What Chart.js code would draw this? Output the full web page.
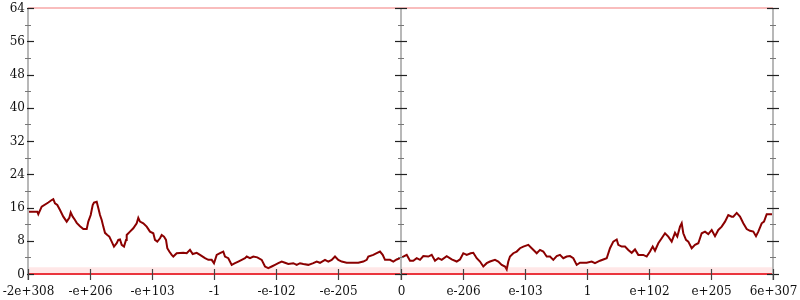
<!DOCTYPE html>
<html>
<head>
<meta charset="utf-8">
<script src="https://cdn.jsdelivr.net/npm/chart.js@4.4.1/dist/chart.umd.min.js"></script>
<style>
  html, body { margin: 0; padding: 0; background: #fff; }
  #wrap { width: 800px; height: 300px; }
</style>
</head>
<body>
<div id="wrap"><canvas id="chart" width="800" height="300"></canvas></div>
<script>
// x positions run along the axis from 0 to xMax, 13 evenly spaced labelled ticks
const xMax = 745;
const xTickLabels = ['-2e+308', '-e+206', '-e+103', '-1', '-e-102', '-e-205', '0',
                     'e-206', 'e-103', '1', 'e+102', 'e+205', '6e+307'];
const yTicks = [0, 8, 16, 24, 32, 40, 48, 56, 64];
const yMinorStep = 4;

const linePos = [
  0, 9.3, 10.3, 13.7, 20.3, 23.7, 25.3, 27, 29.3, 32, 35.3, 38.7, 41.3, 42.7, 44.7, 47, 48.7, 52, 55.3, 58.7,
  60.3, 62.7, 64.7, 66, 68.7, 70.3, 72, 73.7, 75.3, 77, 79.3, 81.3, 83.7, 86, 88.7, 90.3, 92, 93.7, 96, 98,
  98.7, 102, 105.3, 108.7, 110.3, 112, 115.3, 118.7, 122, 125.3, 127, 129.3, 132, 133.7, 136, 138, 139.3, 141.3, 143.7, 145.3,
  148.7, 155.3, 158.7, 162, 164.7, 168.7, 172, 177, 180.3,
  183.7, 186, 188.7, 192, 195.3, 197, 200.3, 203.7, 207, 210.3, 213.7, 217, 218.7, 222, 225.3, 229.3, 233.7, 237, 240.3, 243.7,
  247, 250.3, 253.7, 257, 260.3, 265.3, 268.7, 272, 275.3, 280.3, 285.3, 288.7, 292, 297, 300.3, 303.7, 307, 310.3, 313.7, 318.7,
  330.3, 335.3, 338.7, 340.3, 345.3, 348.7, 352, 354.7, 357, 362, 365.3, 368.7,
  372, 375.3, 378.7, 382, 385.3, 388.7, 392, 395.3, 400.3, 403.7, 407, 410.3, 413.7, 418.7, 423.7, 428.7, 432, 435.3, 438.7, 442.7,
  445.3, 448.7, 452, 455.3, 458.7, 462, 467, 470.3, 473.7, 477, 478.7, 480.3, 482, 485.3, 488.7, 492, 495.3, 500.3, 503.7, 507,
  508.7, 512, 515.3, 518.7, 522, 525.3, 528.7, 532, 535.3, 538.7, 542, 545.3, 548.7, 552, 558.7, 563.7, 567,
  572, 575.3, 578.7, 582, 585.3, 588.7, 590.3, 593.7, 597, 600.3, 603.7, 607, 610.3, 615.3, 618.7, 622, 624.7, 627, 630.3, 633.7,
  637, 640.3, 643.7, 647, 649.3, 652, 653.7, 655.3, 658, 660.3, 663.7, 667, 670.3, 673.7, 677, 680.3, 683.7, 687, 690.3, 693.7,
  697, 700.3, 703.7, 705.3, 708.7, 712, 715.3, 718.7, 722, 725.3, 728, 730.3, 733.7, 736, 738.7, 745
];
const lineValues = [
  15.0, 15.0, 14.4, 16.2, 17.2, 17.8, 18.0, 17.0, 16.6, 15.4, 13.8, 12.6, 13.5, 14.8, 13.8, 13.0, 12.3, 11.5, 10.8, 10.8,
  12.6, 14.2, 16.6, 17.2, 17.4, 15.9, 14.2, 13.0, 11.4, 9.9, 9.4, 9.0, 7.8, 6.6, 7.4, 8.2, 8.3, 7.0, 6.6, 8.2,
  9.4, 10.2, 11.0, 12.2, 13.5, 12.6, 12.2, 11.4, 10.2, 9.8, 8.2, 7.8, 8.6, 9.4, 9.0, 8.2, 6.2, 5.4, 4.6, 4.2,
  5.0, 5.1, 5.0, 5.8, 4.8, 5.1, 4.6, 3.8, 3.4,
  3.4, 2.6, 4.6, 5.0, 5.4, 4.2, 3.8, 2.2, 2.6, 3.0, 3.4, 3.8, 4.2, 3.8, 4.2, 4.0, 3.4, 1.8, 1.4, 1.8,
  2.2, 2.6, 3.0, 2.7, 2.4, 2.6, 2.2, 2.6, 2.4, 2.2, 2.6, 3.0, 2.7, 3.4, 3.0, 3.4, 4.2, 3.4, 3.0, 2.7,
  2.7, 3.0, 3.4, 4.2, 4.6, 5.0, 5.4, 4.6, 3.4, 3.4, 3.0, 3.5,
  3.8, 4.2, 4.6, 3.2, 3.2, 3.8, 3.4, 4.3, 4.2, 4.6, 3.2, 3.8, 3.4, 4.3, 3.5, 3.0, 3.5, 5.0, 4.6, 5.0,
  5.1, 3.8, 3.0, 1.8, 2.6, 3.0, 3.4, 3.0, 2.2, 1.8, 1.1, 3.0, 4.2, 5.0, 5.4, 6.2, 6.6, 7.0, 6.2, 5.4,
  5.0, 5.8, 5.4, 4.2, 4.2, 3.4, 4.3, 4.6, 3.8, 4.2, 4.3, 3.8, 2.2, 2.7, 2.7, 3.0, 2.6,
  3.2, 3.5, 3.8, 6.2, 7.8, 8.3, 7.0, 6.6, 6.6, 5.8, 5.1, 5.9, 4.6, 4.6, 4.2, 5.4, 6.6, 5.6, 7.4, 8.6,
  9.8, 9.0, 7.8, 9.9, 9.0, 11.4, 12.2, 9.8, 8.2, 7.8, 6.2, 7.0, 7.4, 9.8, 10.2, 9.6, 10.6, 9.1, 10.6, 11.4,
  12.6, 14.2, 13.8, 13.8, 14.7, 13.8, 12.2, 10.8, 10.4, 10.2, 9.1, 10.2, 12.2, 12.6, 14.4, 14.4
];

// the red bands along the bottom and top edges
const edgeLow = 0;
const edgeHigh = 64;
const bandLow = 0.9;

function flat(y) {
  return [{ x: 0, y: y }, { x: xMax, y: y }];
}

const axesPlugin = {
  id: 'gnuAxes',
  afterDatasetsDraw(chart) {
    const c = chart.ctx;
    const xs = chart.scales.x, ys = chart.scales.y;
    const top = ys.getPixelForValue(64), bottom = ys.getPixelForValue(0);
    const axisXs = [0, xMax / 2, xMax].map(v => xs.getPixelForValue(v));
    c.save();

    // grey vertical axes
    c.strokeStyle = '#b8b8b8';
    c.lineWidth = 2;
    axisXs.forEach(px => {
      c.beginPath();
      c.moveTo(Math.round(px), top);
      c.lineTo(Math.round(px), bottom + 6);
      c.stroke();
    });

    // y ticks on each axis
    for (let v = 0; v <= 64; v += yMinorStep) {
      const py = Math.round(ys.getPixelForValue(v)) + 0.5;
      const major = yTicks.includes(v);
      axisXs.forEach((px, i) => {
        px = Math.round(px);
        c.beginPath();
        if (major) {
          c.strokeStyle = '#222';
          c.lineWidth = 1.2;
          if (i === 0) { c.moveTo(px - 1, py); c.lineTo(px + 6, py); }
          else { c.moveTo(px - 6, py); c.lineTo(px + 6, py); }
        } else {
          c.strokeStyle = '#777';
          c.lineWidth = 1;
          c.moveTo(px - 3, py); c.lineTo(px + 3, py);
        }
        c.stroke();
      });
    }

    // y labels
    c.fillStyle = '#111';
    c.font = '12px "DejaVu Serif"';
    c.textAlign = 'right';
    c.textBaseline = 'middle';
    yTicks.forEach(v => {
      c.fillText(String(v), xs.getPixelForValue(0) - 3, ys.getPixelForValue(v) + 0.5);
    });

    // x ticks and labels
    c.textAlign = 'center';
    c.textBaseline = 'alphabetic';
    xTickLabels.forEach((lab, i) => {
      const px = Math.round(xs.getPixelForValue(i * xMax / 12)) + 0.5;
      c.strokeStyle = '#444';
      c.lineWidth = 1.2;
      c.beginPath();
      c.moveTo(px, bottom - 5);
      c.lineTo(px, bottom + 6);
      c.stroke();
      c.fillText(lab, px, bottom + 21);
    });
    c.restore();
  }
};

const ctx = document.getElementById('chart');

new Chart(ctx, {
  type: 'scatter',
  data: {
    datasets: [
      {
        label: 'band',
        data: flat(bandLow),
        showLine: true,
        borderColor: 'rgba(255,70,70,0.13)',
        borderWidth: 6,
        pointRadius: 0,
        clip: false
      },
      {
        label: 'top',
        data: flat(edgeHigh),
        showLine: true,
        borderColor: 'rgba(240,90,90,0.4)',
        borderWidth: 2,
        pointRadius: 0,
        clip: false
      },
      {
        label: 'bottom',
        data: flat(edgeLow),
        showLine: true,
        borderColor: 'rgba(232,30,40,0.9)',
        borderWidth: 2,
        pointRadius: 0,
        clip: false
      },
      {
        label: 'walk',
        data: linePos.map((x, i) => ({ x: x, y: lineValues[i] })),
        showLine: true,
        borderColor: '#8b0000',
        borderWidth: 2,
        pointRadius: 0,
        tension: 0
      }
    ]
  },
  options: {
    responsive: false,
    animation: false,
    layout: { padding: { left: 28, right: 27, top: 8, bottom: 26 } },
    plugins: { legend: { display: false }, tooltip: { enabled: false } },
    scales: {
      x: { type: 'linear', min: 0, max: xMax, display: false },
      y: { type: 'linear', min: 0, max: 64, display: false }
    }
  },
  plugins: [axesPlugin]
});
</script>
</body>
</html>
